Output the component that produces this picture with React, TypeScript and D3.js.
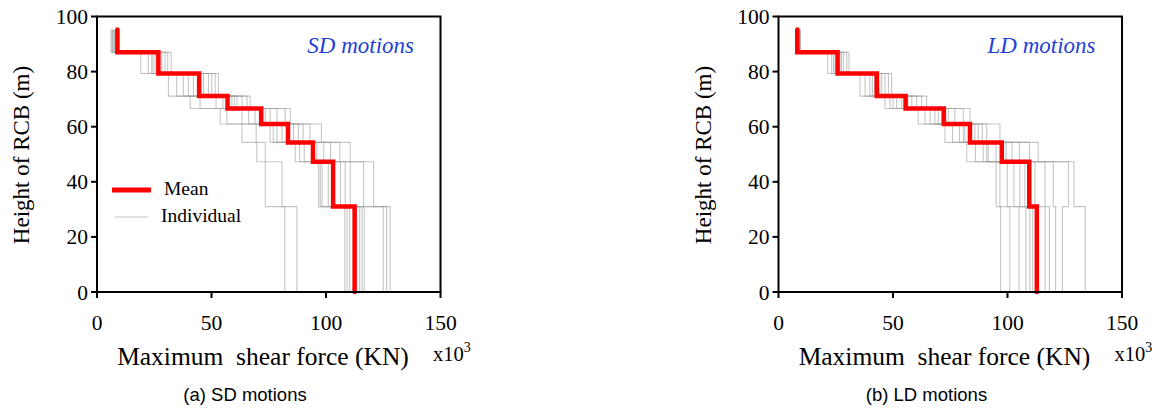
import React from "react";
import * as d3 from "d3";

// Story levels (m), bottom to top
const HEIGHTS = [0, 31, 47.3, 54.3, 61, 66.6, 71.1, 79.3, 87, 95.3];
const X_TICKS = [0, 50, 100, 150];
const Y_TICKS = [0, 20, 40, 60, 80, 100];

// Shear force per story (x10^3 KN), bottom story first
const SD_MEAN = [112.5, 103.1, 94.3, 83.4, 71.7, 57.0, 44.6, 26.8, 8.9];
const SD_IND = [
  [82.0, 73.5, 69.8, 63.3, 53.8, 40.7, 31.2, 19.1, 6.1],
  [87.3, 80.8, 73.5, 69.5, 56.7, 45.0, 34.8, 22.4, 7.1],
  [108.2, 96.8, 86.6, 75.6, 63.3, 52.0, 37.7, 23.9, 8.2],
  [109.2, 101.0, 88.5, 77.0, 66.2, 55.0, 39.9, 25.4, 6.5],
  [110.3, 97.5, 93.9, 78.6, 69.0, 56.7, 42.1, 24.5, 7.5],
  [114.7, 98.3, 90.5, 80.8, 72.0, 58.9, 46.5, 26.5, 8.5],
  [115.7, 106.3, 96.0, 85.8, 73.5, 61.1, 45.0, 28.3, 9.6],
  [116.7, 108.4, 99.0, 88.0, 75.6, 60.0, 48.7, 27.0, 9.0],
  [125.0, 110.6, 102.0, 90.0, 78.6, 63.3, 50.1, 29.7, 7.8],
  [126.5, 116.4, 106.0, 93.0, 82.2, 65.5, 51.6, 30.9, 6.8],
  [128.0, 120.8, 110.6, 98.0, 84.4, 66.9, 53.0, 32.4, 8.9],
];

const LD_MEAN = [112.8, 109.5, 97.5, 83.6, 72.2, 55.5, 42.9, 25.8, 8.2];
const LD_IND = [
  [97.0, 95.0, 82.2, 72.7, 61.0, 46.5, 35.6, 21.5, 7.5],
  [101.0, 96.7, 86.0, 76.0, 64.0, 48.7, 37.8, 23.2, 7.8],
  [105.0, 99.9, 89.4, 79.0, 66.2, 50.0, 39.9, 24.0, 8.0],
  [108.0, 102.8, 91.6, 80.7, 68.3, 51.6, 41.0, 24.7, 8.2],
  [109.8, 105.4, 90.9, 81.4, 69.8, 53.8, 42.0, 25.5, 8.4],
  [111.0, 107.6, 95.0, 83.0, 71.3, 55.0, 43.5, 26.2, 8.5],
  [116.4, 112.0, 99.4, 85.8, 72.7, 56.5, 44.2, 26.9, 8.8],
  [118.3, 116.4, 102.0, 87.2, 74.1, 58.2, 45.1, 27.5, 9.0],
  [121.0, 120.0, 105.2, 89.0, 77.0, 60.3, 46.5, 28.3, 9.2],
  [124.0, 126.6, 109.6, 90.9, 80.7, 62.5, 48.0, 29.8, 9.4],
  [134.0, 129.0, 113.4, 96.7, 83.6, 64.7, 49.4, 30.8, 9.6],
];

const SERIF = "'Liberation Serif', 'Times New Roman', serif";
const SANS = "'Liberation Sans', Arial, sans-serif";

function stepPoints(vals: number[]): [number, number][] {
  const pts: [number, number][] = [];
  vals.forEach((v, i) => {
    pts.push([v, HEIGHTS[i]]);
    pts.push([v, HEIGHTS[i + 1]]);
  });
  return pts;
}

type PanelProps = {
  left: number;
  mean: number[];
  ind: number[][];
  title: string;
  caption: string;
  legend: boolean;
};

function Panel({ left, mean, ind, title, caption, legend }: PanelProps) {
  const right = left + 343.5;
  const top = 16.5;
  const bottom = 292;
  const x = d3.scaleLinear().domain([0, 150]).range([left, right]);
  const y = d3.scaleLinear().domain([0, 100]).range([bottom, top]);
  const line = d3
    .line<[number, number]>()
    .x((d) => x(d[0]))
    .y((d) => y(d[1]));

  return (
    <g>
      {ind.map((vals, i) => (
        <path
          key={i}
          d={line(stepPoints(vals)) || ""}
          fill="none"
          stroke="#a0a0a0"
          strokeOpacity={0.6}
          strokeWidth={1.1}
        />
      ))}
      <path
        d={line(stepPoints(mean)) || ""}
        fill="none"
        stroke="#ff0000"
        strokeWidth={4.5}
        strokeLinecap="round"
        strokeLinejoin="miter"
      />
      <rect
        x={left}
        y={top}
        width={right - left}
        height={bottom - top}
        fill="none"
        stroke="#000"
        strokeWidth={2}
      />
      {Y_TICKS.map((t) => (
        <g key={"y" + t}>
          <line x1={left - 6} x2={left} y1={y(t)} y2={y(t)} stroke="#000" strokeWidth={2} />
          <text
            x={left - 9}
            y={y(t)}
            dy="0.35em"
            textAnchor="end"
            fontFamily={SERIF}
            fontSize={21.5}
            fill="#000"
          >
            {t}
          </text>
        </g>
      ))}
      {X_TICKS.map((t) => (
        <g key={"x" + t}>
          <line x1={x(t)} x2={x(t)} y1={bottom} y2={bottom + 6} stroke="#000" strokeWidth={2} />
          <text
            x={x(t)}
            y={330}
            textAnchor="middle"
            fontFamily={SERIF}
            fontSize={21.5}
            fill="#000"
          >
            {t}
          </text>
        </g>
      ))}
      <text
        x={left + 166}
        y={365}
        textAnchor="middle"
        fontFamily={SERIF}
        fontSize={25.5}
        fill="#000"
        style={{ whiteSpace: "pre" }}
      >
        {"Maximum  shear force (KN)"}
      </text>
      <text x={left + 336} y={361} fontFamily={SERIF} fontSize={20.5} fill="#000">
        x10
        <tspan dy={-9} fontSize={14}>
          3
        </tspan>
      </text>
      <text
        transform={`translate(${left - 68},155) rotate(-90)`}
        textAnchor="middle"
        fontFamily={SERIF}
        fontSize={23}
        fill="#000"
      >
        Height of RCB (m)
      </text>
      <text
        x={left + 317}
        y={53}
        textAnchor="end"
        fontFamily={SERIF}
        fontStyle="italic"
        fontSize={23}
        fill="#1f3fd6"
      >
        {title}
      </text>
      <text
        x={left + 148}
        y={401}
        textAnchor="middle"
        fontFamily={SANS}
        fontSize={18.5}
        fill="#000"
      >
        {caption}
      </text>
      {legend && (
        <g>
          <line x1={left + 15} x2={left + 54} y1={190} y2={190} stroke="#ff0000" strokeWidth={5} />
          <text x={left + 67} y={195} fontFamily={SERIF} fontSize={19.5} fill="#000">
            Mean
          </text>
          <line x1={left + 18} x2={left + 51} y1={217} y2={217} stroke="#c4c4c4" strokeWidth={1.2} />
          <text x={left + 64} y={222} fontFamily={SERIF} fontSize={19.5} fill="#000">
            Individual
          </text>
        </g>
      )}
    </g>
  );
}

export default function App() {
  return (
    <svg
      width={1165}
      height={411}
      style={{ position: "absolute", left: 0, top: 0, background: "#fff" }}
    >
      <rect width={1165} height={411} fill="#fff" />
      <Panel left={97} mean={SD_MEAN} ind={SD_IND} title="SD motions" caption="(a) SD motions" legend={true} />
      <Panel left={778.5} mean={LD_MEAN} ind={LD_IND} title="LD motions" caption="(b) LD motions" legend={false} />
    </svg>
  );
}
